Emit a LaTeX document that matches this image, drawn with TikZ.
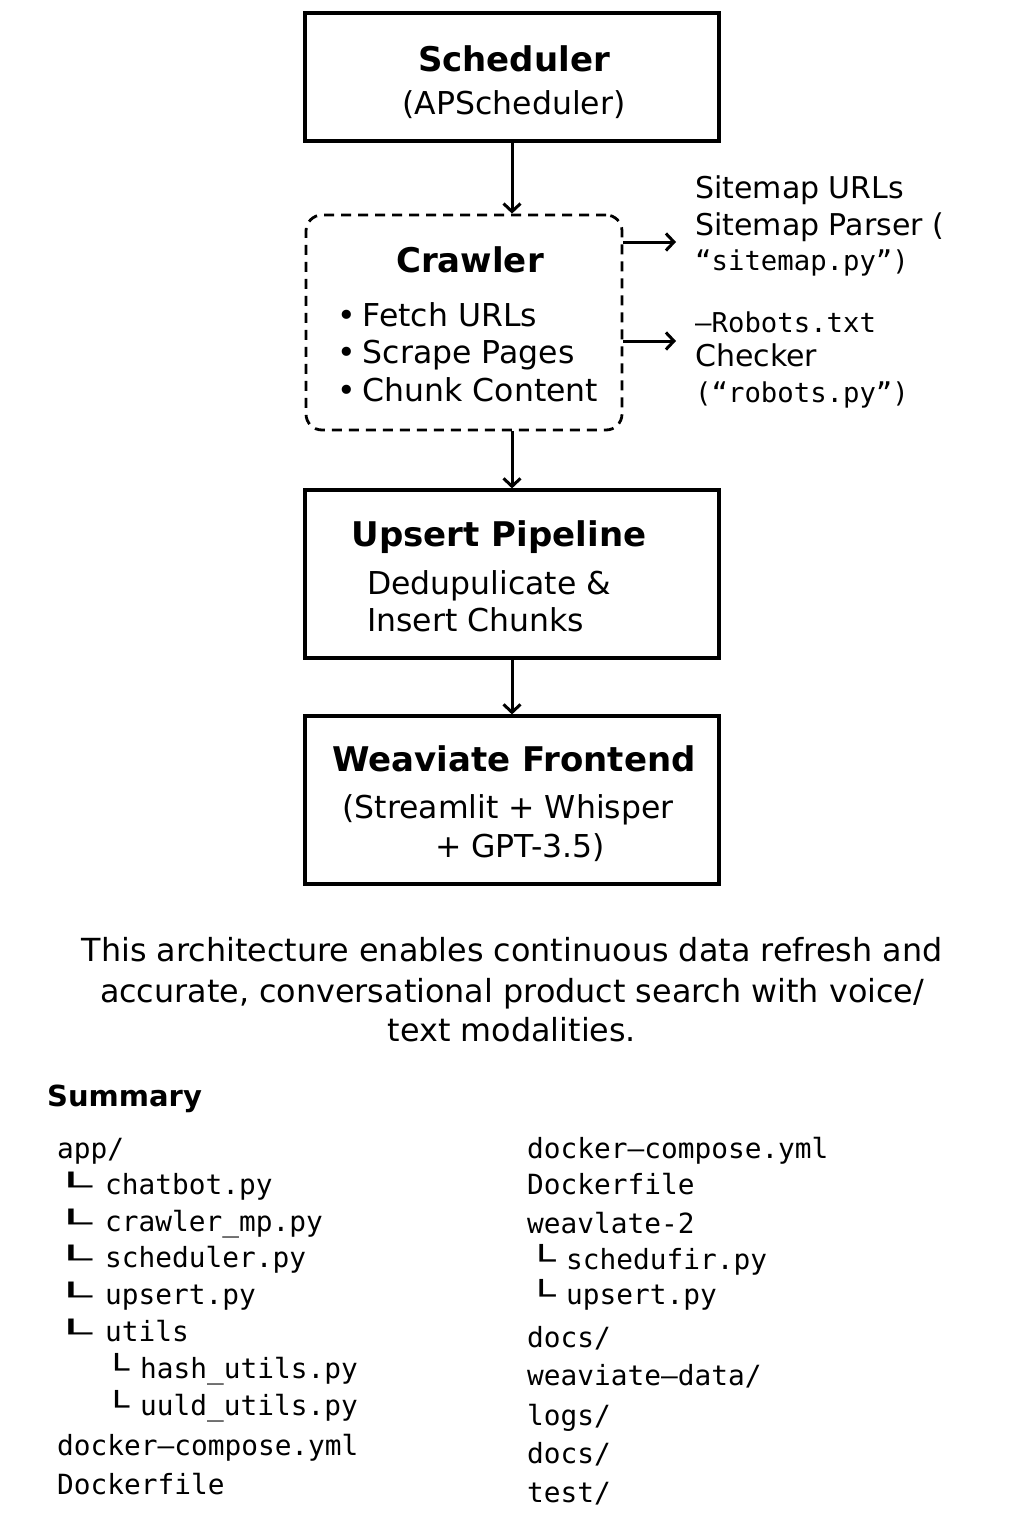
\documentclass[tikz,border=0pt]{standalone}
\usepackage{fontspec}
\usepackage{graphicx}
\setmainfont{DejaVu Sans}
\setmonofont{DejaVu Sans Mono}
\usetikzlibrary{arrows.meta}
\newcommand{\treeL}[2]{\raisebox{-1.5pt}{\scalebox{#1}[#2]{└}}}
\tikzset{
  box/.style={draw, line width=3.2pt, inner sep=0pt},
  dbox/.style={draw, line width=2.8pt, dash pattern=on 10pt off 7pt, rounded corners=16pt, inner sep=0pt},
  arr/.style={line width=3pt, -{Straight Barb[length=8pt,width=17pt,line width=3pt]}},
  ttl/.style={font=\bfseries\fontsize{34}{38}\selectfont, anchor=base, inner sep=0pt},
  body/.style={font=\fontsize{31.5}{34}\selectfont, anchor=base, inner sep=0pt},
  bodyl/.style={font=\fontsize{31.5}{34}\selectfont, anchor=base west, inner sep=0pt},
  side/.style={font=\fontsize{30}{32}\selectfont, anchor=base west, inner sep=0pt},
  sidem/.style={font=\ttfamily\fontsize{27.3}{32}\selectfont, anchor=base west, inner sep=0pt},
  para/.style={font=\fontsize{31.8}{34}\selectfont, anchor=base, inner sep=0pt},
  tree/.style={font=\ttfamily\fontsize{27.8}{32}\selectfont, anchor=base west, inner sep=0pt},
}
\begin{document}
\begin{tikzpicture}[x=1pt,y=-1pt]
\useasboundingbox (0,0) rectangle (1024,1536);
\fill[white] (0,0) rectangle (1024,1536);

% Boxes
\node[box, minimum width=414pt, minimum height=128pt] (sched) at (512,77) {};
\node[dbox, minimum width=316pt, minimum height=215pt] (crawl) at (464,322.5) {};
\node[box, minimum width=414pt, minimum height=168pt] (ups) at (512,574) {};
\node[box, minimum width=414pt, minimum height=168pt] (weav) at (512,800) {};

% Box texts
\node[ttl] (t1) at (514,72) {Scheduler};
\node[body] (t2) at (514,114) {(APScheduler)};
\node[ttl] (t3) at (470,272) {Crawler};
\node[bodyl] (b1) at (337,326) {•\hspace{7pt}Fetch URLs};
\node[bodyl] (b2) at (337,363) {•\hspace{7pt}Scrape Pages};
\node[bodyl] (b3) at (337,401) {•\hspace{7pt}Chunk Content};
\node[ttl] (t4) at (499,546) {Upsert Pipeline};
\node[bodyl] (t5) at (367,594) {Dedupulicate \&};
\node[bodyl] (t6) at (367,631) {Insert Chunks};
\node[ttl] (t7) at (514,771) {Weaviate Frontend};
\node[body] (t8) at (508,818) {(Streamlit + Whisper};
\node[body] (t9) at (520,857) {+ GPT-3.5)};

% Side labels
\node[side] (s1) at (695,198) {Sitemap URLs};
\node[side] (s2) at (695,235) {Sitemap Parser (};
\node[sidem] (s3) at (695,270) {“sitemap.py”)};
\node[sidem] (s4) at (695,332) {—Robots.txt};
\node[side] (s5) at (695,366) {Checker};
\node[sidem] (s6) at (695,402) {(“robots.py”)};

% Connectors
\coordinate (c1) at (676,242);
\coordinate (c2) at (676,341);
\draw[arr] (sched.south) -- (sched.south |- crawl.north);
\draw[arr] (crawl.east |- c1) -- (c1);
\draw[arr] (crawl.east |- c2) -- (c2);
\draw[arr] (ups.north |- crawl.south) -- (ups.north);
\draw[arr] (ups.south) -- (weav.north);

% Paragraph
\node[para] (p1) at (512,961) {This architecture enables continuous data refresh and};
\node[para] (p2) at (512,1002) {accurate, conversational product search with voice/};
\node[para] (p3) at (512,1041) {text modalities.};

% Summary
\node[font=\bfseries\fontsize{29}{32}\selectfont, anchor=base west, inner sep=0pt] (sum) at (47,1106) {Summary};

\node[tree] (l1) at (57,1158) {app/};
\node[tree] (g2) at (50,1194) {\treeL{2.5}{0.9}};
\node[tree] (l2) at (105,1194) {chatbot.py};
\node[tree] (g3) at (50,1231) {\treeL{2.5}{0.9}};
\node[tree] (l3) at (105,1231) {crawler\_mp.py};
\node[tree] (g4) at (50,1267) {\treeL{2.5}{0.9}};
\node[tree] (l4) at (105,1267) {scheduler.py};
\node[tree] (g5) at (50,1304) {\treeL{2.5}{0.9}};
\node[tree] (l5) at (105,1304) {upsert.py};
\node[tree] (g6) at (50,1341) {\treeL{2.5}{0.9}};
\node[tree] (l6) at (105,1341) {utils};
\node[tree] (g7) at (104,1378) {\treeL{1.5}{1}};
\node[tree] (l7) at (140,1378) {hash\_utils.py};
\node[tree] (g8) at (104,1415) {\treeL{1.5}{1}};
\node[tree] (l8) at (140,1415) {uuld\_utils.py};
\node[tree] (l9) at (57,1455) {docker–compose.yml};
\node[tree] (l10) at (57,1494) {Dockerfile};

\node[tree] (r1) at (527,1158) {docker–compose.yml};
\node[tree] (r2) at (527,1194) {Dockerfile};
\node[tree] (r3) at (527,1233) {weavlate-2};
\node[tree] (gr4) at (527,1269) {\treeL{1.7}{1}};
\node[tree] (r4) at (566,1269) {schedufir.py};
\node[tree] (gr5) at (527,1304) {\treeL{1.7}{1}};
\node[tree] (r5) at (566,1304) {upsert.py};
\node[tree] (r6) at (527,1347) {docs/};
\node[tree] (r7) at (527,1385) {weaviate–data/};
\node[tree] (r8) at (527,1425) {logs/};
\node[tree] (r9) at (527,1463) {docs/};
\node[tree] (r10) at (527,1502) {test/};
\end{tikzpicture}
\end{document}
